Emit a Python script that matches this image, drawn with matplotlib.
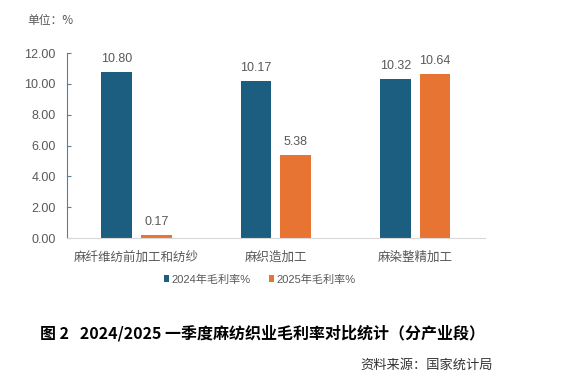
import matplotlib.pyplot as plt
import numpy as np

# data
categories = ['麻纤维纺前加工和纺纱', '麻织造加工', '麻染整精加工']
rate2024 = [10.80, 10.17, 10.32]
rate2025 = [0.17, 5.38, 10.64]
series_names = ['2024年毛利率%', '2025年毛利率%']
yticks = [0, 2, 4, 6, 8, 10, 12]

blue = '#1B5E80'
orange = '#E87433'
gray = '#595959'

plt.rcParams['font.family'] = ['Liberation Sans', 'Noto Sans CJK SC', 'DejaVu Sans']

fig = plt.figure(figsize=(5.67, 3.87), dpi=100)
ax = fig.add_axes([0.118, 0.385, 0.737, 0.478])

x = np.arange(len(categories))
w = 0.22
off = 0.143
b1 = ax.bar(x - off, rate2024, w, color=blue, label=series_names[0])
b2 = ax.bar(x + off, rate2025, w, color=orange, label=series_names[1])

for bars, vals in [(b1, rate2024), (b2, rate2025)]:
    for b, v in zip(bars, vals):
        ax.annotate(f'{v:.2f}', (b.get_x() + b.get_width() / 2, v),
                    xytext=(0, 5), textcoords='offset points',
                    ha='center', va='bottom', fontsize=9, color=gray)

ax.set_xlim(-0.5, 2.5)
ax.set_ylim(0, 12)
ax.set_yticks(yticks)
ax.set_yticklabels([f'{t:.2f}' for t in yticks], fontsize=9, color=gray)
ax.set_xticks(x)
ax.set_xticklabels(categories, fontsize=9, color=gray,
                   family=['Noto Sans CJK SC', 'DejaVu Sans'])
ax.tick_params(axis='y', direction='in', length=3, color='#5A7F92', pad=8)
ax.tick_params(axis='x', length=0, pad=9)

for s in ['top', 'right']:
    ax.spines[s].set_visible(False)
ax.spines['left'].set_color('#5A7F92')
ax.spines['bottom'].set_color('#D9D9D9')

fig.text(0.049, 0.948, '单位：%', fontsize=8.5, color=gray,
         family=['Noto Sans CJK SC', 'DejaVu Sans'], va='center')

leg = fig.legend(handles=[b1, b2], loc='center', bbox_to_anchor=(0.458, 0.278),
                 ncol=2, frameon=False, handlelength=0.5,
                 handleheight=0.5, handletextpad=0.2, columnspacing=1.6,
                 prop={'family': ['Liberation Sans', 'Noto Sans CJK SC'], 'size': 8})
for t in leg.get_texts():
    t.set_color(gray)

fig.text(0.07, 0.14, '图 2   2024/2025 一季度麻纺织业毛利率对比统计（分产业段）',
         fontsize=11.5, fontweight='bold', color='black',
         family=['Noto Sans CJK SC', 'DejaVu Sans'], va='center')
fig.text(0.87, 0.057, '资料来源：国家统计局', fontsize=9.5, color='#333333',
         family=['Noto Sans CJK SC', 'DejaVu Sans'], va='center', ha='right')

fig.savefig('out.png', dpi=100)
